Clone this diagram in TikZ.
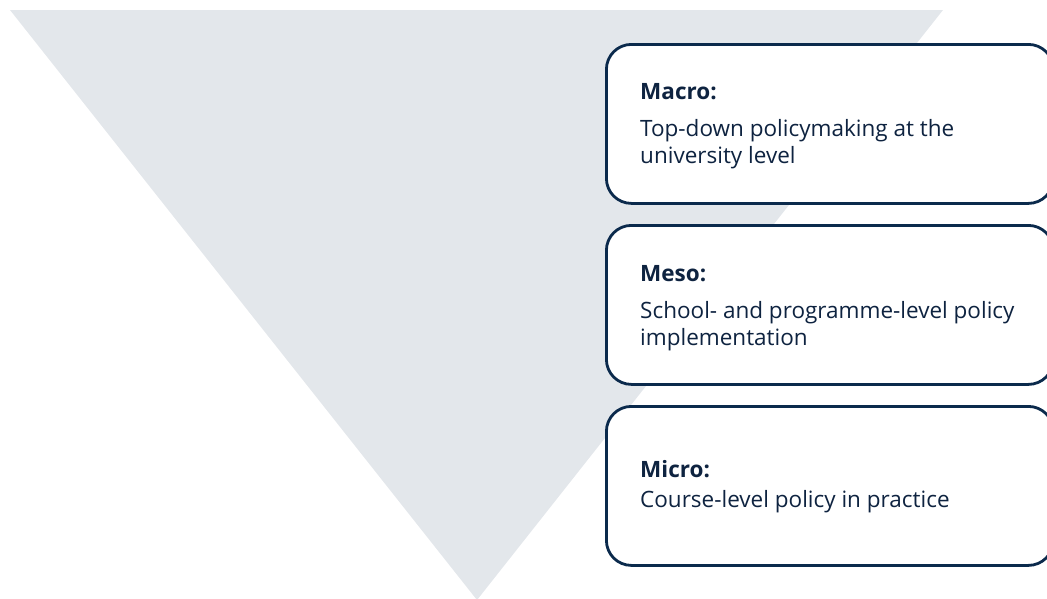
\documentclass[tikz,border=0pt]{standalone}
\usepackage{fontspec}
\setmainfont{Open Sans}
\definecolor{tri}{HTML}{E3E7EB}
\definecolor{navy}{HTML}{0B2A4C}
\definecolor{ink}{HTML}{0E2340}
\begin{document}
\begin{tikzpicture}[x=1pt,y=-1pt,
  levelbox/.style={draw=navy,line width=2.8pt,rounded corners=25pt,fill=white,
    minimum width=447pt,minimum height=159pt,anchor=north west,inner sep=0pt},
  head/.style={anchor=base west,inner sep=0pt,text=ink,font=\fontsize{22.5}{27}\selectfont\bfseries},
  body/.style={anchor=base west,inner sep=0pt,text=ink,font=\fontsize{22.5}{27}\selectfont}]
\useasboundingbox (0,0) rectangle (1047,598);
\clip (0,0) rectangle (1047,598);
\fill[tri] (10,10) -- (943,10) -- (477,600) -- cycle;
\node[levelbox] (macro) at (605,43) {};
\node[levelbox] (meso) at (605,224) {};
\node[levelbox] (micro) at (605,405) {};
\node[head] (macroh) at (640,99) {Macro:};
\node[body] (macrob1) at (640,136) {Top-down policymaking at the};
\node[body] (macrob2) at (640,163) {university level};
\node[head] (mesoh) at (640,281) {Meso:};
\node[body] (mesob1) at (640,318) {School- and programme-level policy};
\node[body] (mesob2) at (640,345) {implementation};
\node[head] (microh) at (640,477) {Micro:};
\node[body] (microb1) at (640,507) {Course-level policy in practice};
\end{tikzpicture}
\end{document}
